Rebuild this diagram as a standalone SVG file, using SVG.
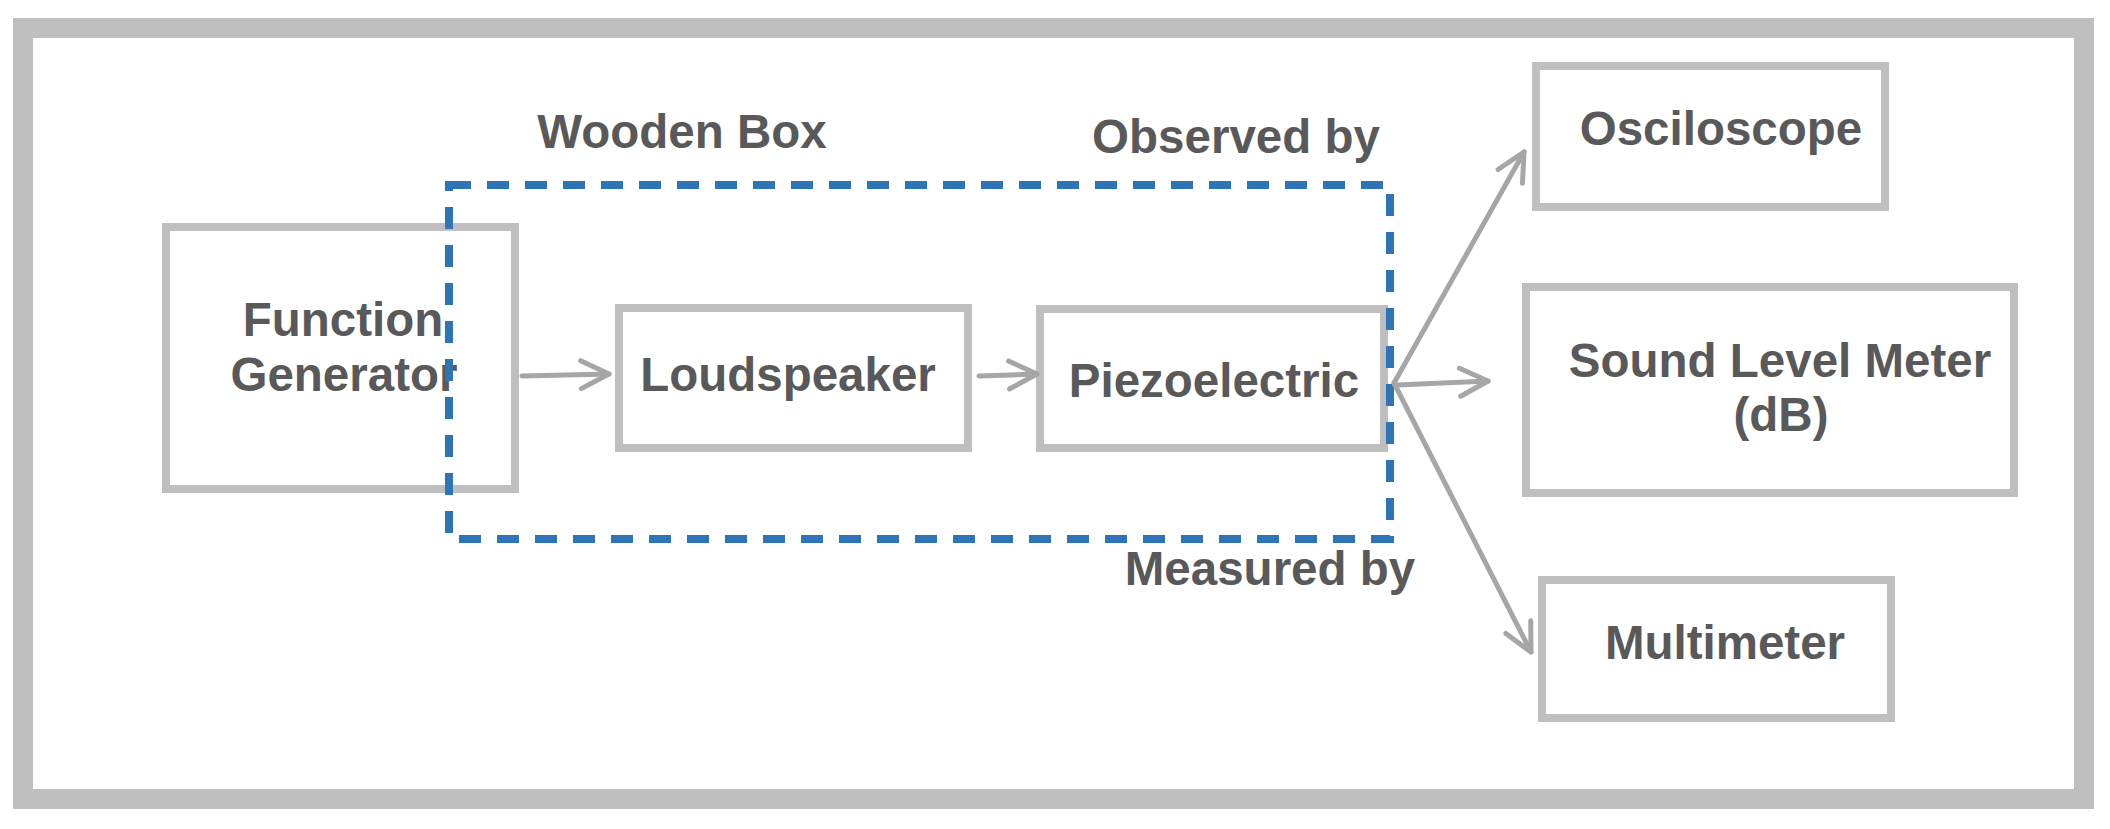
<svg xmlns="http://www.w3.org/2000/svg" width="2110" height="829" viewBox="0 0 2110 829">
<defs>
<style>
.box{fill:none;stroke:#bfbfbf;stroke-width:8}
.lbl{font-family:"Liberation Sans",Arial,sans-serif;font-weight:bold;font-size:47.5px;fill:#595959;text-anchor:middle}
.conn{fill:none;stroke:#a6a6a6;stroke-width:5;stroke-linecap:round}
</style>
<marker id="arr" viewBox="-34 -20 40 40" markerWidth="40" markerHeight="40" refX="0" refY="0" orient="auto" markerUnits="userSpaceOnUse">
<path d="M-28,-14 L0,0 L-28,14" fill="none" stroke="#a6a6a6" stroke-width="5" stroke-linecap="round" stroke-linejoin="round"/>
</marker>
</defs>
<rect width="2110" height="829" fill="#ffffff"/>
<rect id="frame" x="23" y="28" width="2061" height="771" fill="none" stroke="#bfbfbf" stroke-width="20"/>

<g id="function-generator">
<rect class="box" x="166" y="227" width="349" height="262"/>
<text class="lbl" x="343" y="336">Function</text>
<text class="lbl" x="344" y="391">Generator</text>
</g>

<g id="loudspeaker">
<rect class="box" x="619" y="308" width="349" height="140"/>
<text class="lbl" x="788" y="391">Loudspeaker</text>
</g>

<g id="piezoelectric">
<rect class="box" x="1040" y="309" width="344" height="139"/>
<text class="lbl" x="1214" y="397">Piezoelectric</text>
</g>

<g id="wooden-box">
<rect x="449" y="185" width="941" height="354" fill="none" stroke="#2e75b6" stroke-width="8" stroke-dasharray="22 16"/>
<text class="lbl" x="682" y="148">Wooden Box</text>
</g>

<g id="osciloscope">
<rect class="box" x="1536" y="66" width="349" height="141"/>
<text class="lbl" x="1721" y="145">Osciloscope</text>
</g>

<g id="sound-level-meter">
<rect class="box" x="1526" y="287" width="488" height="206"/>
<text class="lbl" x="1780" y="377">Sound Level Meter</text>
<text class="lbl" x="1781" y="431">(dB)</text>
</g>

<g id="multimeter">
<rect class="box" x="1542" y="580" width="349" height="138"/>
<text class="lbl" x="1725" y="659">Multimeter</text>
</g>

<g id="labels">
<text class="lbl" x="1236" y="153">Observed by</text>
<text class="lbl" x="1270" y="585">Measured by</text>
</g>

<g id="connectors">
<line class="conn" x1="522" y1="376" x2="609" y2="374" marker-end="url(#arr)"/>
<line class="conn" x1="979" y1="376" x2="1037" y2="374" marker-end="url(#arr)"/>
<line class="conn" x1="1394" y1="383" x2="1524" y2="152" marker-end="url(#arr)"/>
<line class="conn" x1="1398" y1="385" x2="1488" y2="381" marker-end="url(#arr)"/>
<line class="conn" x1="1394" y1="383" x2="1531" y2="652" marker-end="url(#arr)"/>
</g>
</svg>
